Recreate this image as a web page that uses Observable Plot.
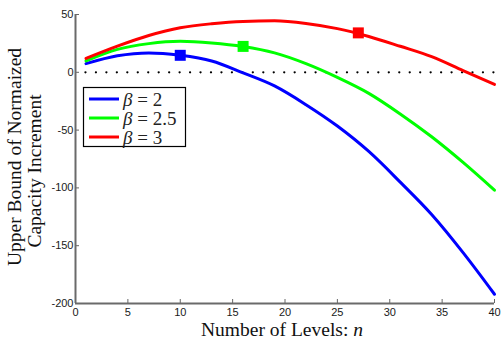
<!DOCTYPE html>
<html><head><meta charset="utf-8">
<script src="https://cdn.jsdelivr.net/npm/d3@7"></script>
<script src="https://cdn.jsdelivr.net/npm/@observablehq/plot@0.6"></script>
<style>
html,body{margin:0;padding:0;background:#fff;}
#chart{position:relative;width:502px;height:339px;}
</style></head><body><div id="chart"></div>
<script>
const levels = [1,4,7,10,13,16,19,22,25,28,31,34,37,40];
const beta2 = [7.5,14.3,16.8,14.7,9.8,-0.5,-11.8,-28,-46.5,-68.5,-95,-123,-156,-192];
const beta25 = [9.8,19.8,24.8,26.8,25.4,22.3,16.8,7.5,-4.4,-18.2,-36,-55.8,-78,-102];
const beta3 = [12,22.6,31.8,38.5,42,44,44.5,42.3,37.8,31,22.5,13.5,1.5,-10.4];
const seriesNames = ["β = 2","β = 2.5","β = 3"];
const betaLabels = ["2","2.5","3"];
const colors = ["#0000ff","#00ff00","#ff0000"];
const optimalN = [10,16,27];
const optimalValue = [14.7,22.4,34.1];
const xTicks = [0,5,10,15,20,25,30,35,40];
const yTicks = [50,0,-50,-100,-150,-200];
const xLabel = "Number of Levels: ";
const xLabelVar = "n";
const yLabel1 = "Upper Bound of Normaized";
const yLabel2 = "Capacity Increment";

const allSeries = [beta2, beta25, beta3];
const rows = [];
allSeries.forEach((vals, i) => levels.forEach((n, j) => rows.push({n, v: vals[j], s: seriesNames[i]})));
const markers = optimalN.map((n, i) => ({n, v: optimalValue[i], s: seriesNames[i]}));

const W = 502, H = 339, mL = 75, mR = 8, mT = 14, mB = 36;
const plot = Plot.plot({
  width: W, height: H, marginLeft: mL, marginRight: mR, marginTop: mT, marginBottom: mB,
  x: {domain: [0, 40]},
  y: {domain: [-200, 50]},
  color: {domain: seriesNames, range: colors},
  style: {fontFamily: "'Liberation Sans', Arial, sans-serif", fontSize: "11px", color: "#1a1a1a", background: "#fff"},
  marks: [
    Plot.axisX({ticks: xTicks, tickSize: 0, tickPadding: 5, tickFormat: d => String(d), label: null}),
    Plot.axisY({ticks: yTicks, tickSize: 0, tickPadding: 2, tickFormat: d => String(d), label: null}),
    Plot.tickX(xTicks, {x: d => d, stroke: "#666", insetTop: H - mT - mB - 4}),
    Plot.tickY(yTicks, {y: d => d, stroke: "#666", insetRight: W - mL - mR - 4}),
    Plot.ruleY([0], {x1: levels[0], x2: levels[levels.length - 1], stroke: "#000", strokeWidth: 2.3, strokeDasharray: "0 10.46", strokeLinecap: "round"}),
    Plot.line(rows, {x: "n", y: "v", z: "s", stroke: "s", strokeWidth: 3, curve: "monotone-x"}),
    Plot.dot(markers, {x: "n", y: "v", symbol: "square", fill: "s", r: 6.2}),
    Plot.ruleX([0], {stroke: "#6a6a6a", strokeWidth: 2}),
    Plot.ruleY([-200], {stroke: "#6a6a6a", strokeWidth: 2})
  ]
});
document.getElementById("chart").appendChild(plot);

const svg = d3.select(plot);
const serif = "'Liberation Serif', 'Times New Roman', serif";
// x label
const xl = svg.append("text").attr("x", 282).attr("y", 336).attr("text-anchor", "middle")
  .attr("font-family", serif).attr("font-size", 19.5).attr("fill", "#111");
xl.append("tspan").text(xLabel);
xl.append("tspan").attr("font-style", "italic").text(xLabelVar);
// y label
svg.append("text").attr("transform", "translate(21,157) rotate(-90)").attr("text-anchor", "middle")
  .attr("font-family", serif).attr("font-size", 19.5).attr("fill", "#111").text(yLabel1);
svg.append("text").attr("transform", "translate(41,171) rotate(-90)").attr("text-anchor", "middle")
  .attr("font-family", serif).attr("font-size", 19.5).attr("fill", "#111").text(yLabel2);
// legend
const lg = svg.append("g");
lg.append("rect").attr("x", 83.5).attr("y", 87.5).attr("width", 102).attr("height", 59)
  .attr("fill", "#fff").attr("stroke", "#000").attr("stroke-width", 1.2);
betaLabels.forEach((b, i) => {
  const cy = 99 + i * 19;
  lg.append("line").attr("x1", 89).attr("x2", 119).attr("y1", cy).attr("y2", cy)
    .attr("stroke", colors[i]).attr("stroke-width", 3);
  const t = lg.append("text").attr("x", 123).attr("y", cy + 6.5).attr("text-anchor", "start")
    .attr("font-family", serif).attr("font-size", 19).attr("fill", "#222");
  t.append("tspan").attr("font-style", "italic").text("β");
  t.append("tspan").text(" = " + b);
});
</script>
</body></html>
